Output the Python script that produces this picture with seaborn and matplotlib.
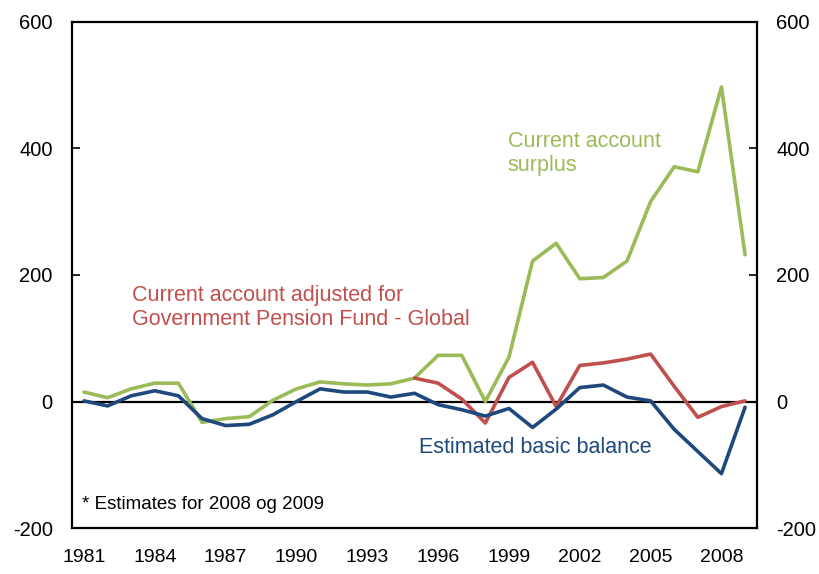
import matplotlib
matplotlib.use("Agg")
import matplotlib.pyplot as plt
import seaborn as sns
import pandas as pd

# Data (NOK billions)
years = list(range(1981, 2010))
surplus = [15, 6, 20, 29, 29, -33, -27, -24, 2, 20, 31, 28, 26, 28, 37,
           73, 73, 0, 70, 222, 250, 194, 196, 222, 316, 371, 363, 497, 232]
adj_years = list(range(1995, 2010))
adjusted = [37, 29, 4, -34, 38, 62, -8, 57, 61, 67, 75, 24, -25, -8, 1]
basic = [1, -7, 9, 17, 9, -27, -38, -36, -21, 0, 20, 15, 15, 7, 13,
         -5, -13, -23, -11, -41, -12, 22, 26, 7, 1, -44, -79, -114, -9]
label_years = list(range(1981, 2009, 3))
y_ticks = [-200, 0, 200, 400, 600]

green = "#9BBB59"
red = "#C0504D"
blue = "#1F497D"

sns.set_style("white")
plt.rcParams['font.family'] = ['Liberation Sans', 'DejaVu Sans']
plt.rcParams['axes.unicode_minus'] = False
plt.rcParams['xtick.labelcolor'] = 'black'
plt.rcParams['ytick.labelcolor'] = 'black'
plt.rcParams['text.color'] = 'black'

df_main = pd.DataFrame({"year": years, "surplus": surplus, "basic": basic})
df_adj = pd.DataFrame({"year": adj_years, "adjusted": adjusted})

fig = plt.figure(figsize=(8.2, 5.74), dpi=100)
ax = fig.add_axes([0.088, 0.080, 0.835, 0.882])

ax.axhline(0, color="black", lw=1.6, zorder=1)
sns.lineplot(data=df_main, x="year", y="surplus", color=green, lw=2.6, ax=ax, zorder=3)
sns.lineplot(data=df_adj, x="year", y="adjusted", color=red, lw=2.6, ax=ax, zorder=3)
sns.lineplot(data=df_main, x="year", y="basic", color=blue, lw=2.6, ax=ax, zorder=4)

ax.set_xlim(1980.5, 2009.5)
ax.set_ylim(-200, 600)
ax.set_xlabel("")
ax.set_ylabel("")

# year labels centred on their category, tick marks on the group boundaries
ax.set_xticks(label_years)
ax.set_xticklabels([str(y) for y in label_years])
ax.set_xticks([y + 2.5 for y in label_years[:-1]] + [2007.5], minor=True)
ax.tick_params(axis="x", which="major", length=0, pad=15, labelsize=14,
               labelcolor="black")
ax.tick_params(axis="x", which="minor", length=6, width=1.2, direction="in", color="black")

ax.set_yticks(y_ticks)
ax.tick_params(axis="y", which="major", length=6, width=1.2, direction="in",
               left=True, right=True, labelleft=True, labelright=True,
               labelsize=14.5, pad=14, color="black", labelcolor="black")

for side in ax.spines.values():
    side.set_color("black")
    side.set_linewidth(1.6)

ax.text(1998.95, 392, "Current account\nsurplus", color=green, fontsize=15.5,
        ha="left", va="center", linespacing=1.2)
ax.text(1983.05, 148, "Current account adjusted for\nGovernment Pension Fund - Global",
        color=red, fontsize=15.5, ha="left", va="center", linespacing=1.2)
ax.text(1995.2, -73, "Estimated basic balance", color=blue, fontsize=15.5,
        ha="left", va="center")
ax.text(1980.9, -163, "* Estimates for 2008 og 2009", color="black", fontsize=13.5,
        ha="left", va="center")

fig.savefig("out.png", dpi=100)
